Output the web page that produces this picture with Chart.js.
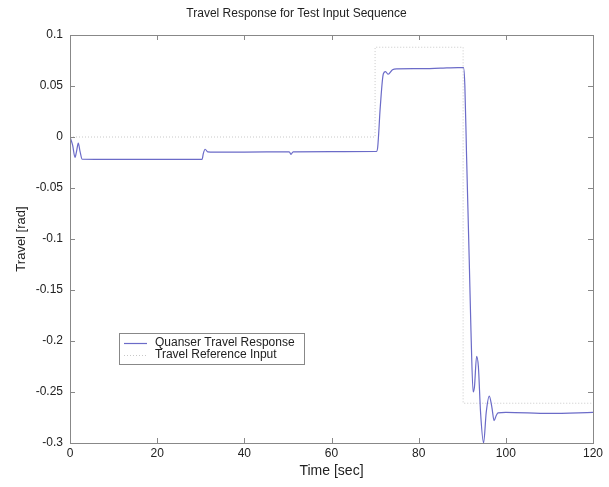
<!DOCTYPE html>
<html>
<head>
<meta charset="utf-8">
<script src="https://cdn.jsdelivr.net/npm/chart.js@4/dist/chart.umd.min.js"></script>
<style>
    html, body { margin: 0; padding: 0; background: #fff; }
    #wrap { width: 609px; height: 487px; }
</style>
</head>
<body>
<div id="wrap"><canvas id="travelChart" width="609" height="487"></canvas></div>
<script>
// measured response (time in sec, travel in rad)
var responseTime = [0, 0.6, 1.15, 1.5, 1.9, 2.3, 2.8, 10, 20, 30.3, 30.6, 31.0, 31.6, 35, 40, 50.3, 50.7, 51.2, 60, 70.3,
    70.6, 71.2, 71.9, 72.4, 73.0, 74.0, 75, 80, 85, 89, 90.3, 90.6, 91.0, 91.6, 92.0, 92.5, 92.8, 93.3, 93.7, 94.2,
    94.9, 95.5, 96.2, 96.8, 97.3, 97.8, 98.2, 100, 110, 120];
var responseTravel = [0, -0.008, -0.020, -0.014, -0.006, -0.014, -0.0218, -0.022, -0.022, -0.022, -0.016, -0.012, -0.0145, -0.0148, -0.0148, -0.0145, -0.017, -0.0145, -0.0143, -0.0142,
    -0.010, 0.030, 0.062, 0.064, 0.0615, 0.066, 0.0668, 0.067, 0.0675, 0.068, 0.068, 0.05, -0.02, -0.12, -0.19, -0.25, -0.245, -0.215, -0.225, -0.27,
    -0.3, -0.27, -0.254, -0.265, -0.278, -0.273, -0.2705, -0.27, -0.271, -0.27];

// reference input steps
var referenceTime = [0, 70, 70, 90.2, 90.2, 120];
var referenceTravel = [0, 0, 0.088, 0.088, -0.261, -0.261];

var xTicks = [0, 20, 40, 60, 80, 100, 120];
var yTicks = [0.1, 0.05, 0, -0.05, -0.1, -0.15, -0.2, -0.25, -0.3];

var seriesNames = ['Quanser Travel Response', 'Travel Reference Input'];
var lineColor = '#6b6bc8';
var refColor = '#c8c8c8';
var fontFamily = '"Liberation Sans", Arial, sans-serif';

function toPoints(xs, ys) {
    var pts = [];
    for (var i = 0; i < xs.length; i++) {
        pts.push({ x: xs[i], y: ys[i] });
    }
    return pts;
}

function fmt(v) {
    return String(Number(v.toFixed(2)));
}

// box round the plot with inward ticks, MATLAB style
var boxPlugin = {
    id: 'boxPlugin',
    afterDatasetsDraw: function (chart) {
        var ctx = chart.ctx;
        var a = chart.chartArea;
        var xs = chart.scales.x;
        var ys = chart.scales.y;
        ctx.save();
        ctx.strokeStyle = '#888';
        ctx.lineWidth = 1;
        ctx.strokeRect(Math.round(a.left) + 0.5, Math.round(a.top) + 0.5, Math.round(a.right - a.left), Math.round(a.bottom - a.top));
        ctx.beginPath();
        xTicks.forEach(function (t) {
            var px = Math.round(xs.getPixelForValue(t)) + 0.5;
            ctx.moveTo(px, a.bottom);
            ctx.lineTo(px, a.bottom - 5);
            ctx.moveTo(px, a.top);
            ctx.lineTo(px, a.top + 5);
        });
        yTicks.forEach(function (t) {
            var py = Math.round(ys.getPixelForValue(t)) + 0.5;
            ctx.moveTo(a.left, py);
            ctx.lineTo(a.left + 5, py);
            ctx.moveTo(a.right, py);
            ctx.lineTo(a.right - 5, py);
        });
        ctx.stroke();

        // legend box
        var lx = 119, ly = 333, lw = 185, lh = 31;
        ctx.fillStyle = '#fff';
        ctx.fillRect(lx, ly, lw, lh);
        ctx.strokeStyle = '#888';
        ctx.strokeRect(lx + 0.5, ly + 0.5, lw, lh);
        ctx.font = '12px ' + fontFamily;
        ctx.textBaseline = 'middle';
        ctx.fillStyle = '#222';
        var rows = [ly + 10, ly + 22];
        var colors = [lineColor, refColor];
        for (var i = 0; i < seriesNames.length; i++) {
            ctx.beginPath();
            ctx.strokeStyle = colors[i];
            ctx.lineWidth = 1.2;
            ctx.setLineDash(i === 1 ? [1, 2] : []);
            ctx.moveTo(124, rows[i] + 0.5);
            ctx.lineTo(147, rows[i] + 0.5);
            ctx.stroke();
            ctx.setLineDash([]);
            ctx.fillText(seriesNames[i], 155, rows[i]);
        }
        ctx.restore();
    }
};

document.addEventListener('DOMContentLoaded', function () {
    var ctx = document.getElementById('travelChart').getContext('2d');
    var travelChart = new Chart(ctx, {
        type: 'line',
        data: {
            datasets: [{
                label: seriesNames[0],
                data: toPoints(responseTime, responseTravel),
                borderColor: lineColor,
                borderWidth: 1.2,
                pointRadius: 0,
                cubicInterpolationMode: 'monotone',
                order: 1
            }, {
                label: seriesNames[1],
                data: toPoints(referenceTime, referenceTravel),
                borderColor: refColor,
                borderWidth: 1,
                borderDash: [1, 2],
                pointRadius: 0,
                tension: 0,
                order: 2
            }]
        },
        options: {
            responsive: false,
            animation: false,
            layout: { padding: { top: 0, right: 16, bottom: 0, left: 0 } },
            plugins: {
                legend: { display: false },
                tooltip: { enabled: false },
                title: {
                    display: true,
                    text: 'Travel Response for Test Input Sequence',
                    color: '#222',
                    font: { family: fontFamily, size: 12, weight: 'normal' },
                    padding: { top: 6, bottom: 14.6 }
                }
            },
            scales: {
                x: {
                    type: 'linear',
                    min: 0,
                    max: 120,
                    afterBuildTicks: function (scale) {
                        scale.ticks = xTicks.map(function (v) { return { value: v }; });
                    },
                    grid: { display: false, drawTicks: false },
                    border: { display: false },
                    ticks: {
                        color: '#222',
                        padding: 3,
                        maxRotation: 0,
                        font: { family: fontFamily, size: 12 }
                    },
                    title: {
                        display: true,
                        text: 'Time [sec]',
                        color: '#222',
                        font: { family: fontFamily, size: 14 },
                        padding: { top: 4, bottom: 7 }
                    },
                    afterFit: function (scale) { scale.height = 44; }
                },
                y: {
                    type: 'linear',
                    min: -0.3,
                    max: 0.1,
                    afterBuildTicks: function (scale) {
                        scale.ticks = yTicks.map(function (v) { return { value: v }; });
                    },
                    grid: { display: false, drawTicks: false },
                    border: { display: false },
                    ticks: {
                        color: '#222',
                        padding: 7,
                        font: { family: fontFamily, size: 12 },
                        callback: function (v) { return fmt(v); }
                    },
                    title: {
                        display: true,
                        text: 'Travel [rad]',
                        color: '#222',
                        font: { family: fontFamily, size: 13 },
                        padding: { top: 14, bottom: 0 }
                    },
                    afterFit: function (scale) { scale.width = 70; }
                }
            }
        },
        plugins: [boxPlugin]
    });
});
</script>
</body>
</html>
